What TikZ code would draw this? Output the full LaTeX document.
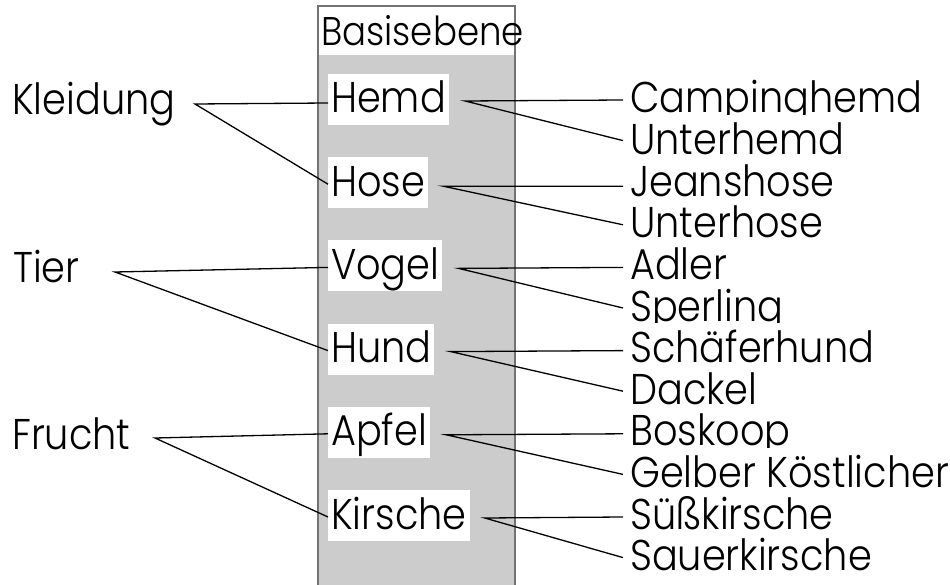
\documentclass[tikz,border=0pt]{standalone}
\usepackage{fontspec}
\setmainfont{Poppins Light}[FakeStretch=0.89]
\usetikzlibrary{positioning,calc}

\begin{document}
\begin{tikzpicture}[
    x=1pt, y=-1pt,
    every node/.style={inner sep=0pt, anchor=base west, font=\fontsize{43}{50}\selectfont},
    catnode/.style={},
    basicnode/.style={fill=white, inner xsep=3pt, text height=39pt, text depth=12pt},
    subnode/.style={fill=white, inner xsep=7pt, text height=39.5pt, text depth=12pt},
    link/.style={line width=1.3pt}
]
\useasboundingbox (0,0) rectangle (950,585);
% column of the basic level
\fill[black!20] (318,55) rectangle (515,590);
\draw[black!55, line width=1.6pt] (318,590) -- (318,6) -- (515,6) -- (515,590);
\node[font=\fontsize{40}{46}\selectfont] (basis) at (321,46) {Basisebene};

% categories
\node[catnode] (kleidung) at (12,115) {Kleidung};
\node[catnode] (tier) at (13,283) {Tier};
\node[catnode] (frucht) at (12,449) {Frucht};
\coordinate (kleidung-r) at (195,104);
\coordinate (tier-r) at (115,272);
\coordinate (frucht-r) at (155,438);

% basic level
\node[basicnode] (hemd) at (328,113) {Hemd};
\node[basicnode] (hose) at (328,196.2) {Hose};
\node[basicnode] (vogel) at (328,279.4) {Vogel};
\node[basicnode] (hund) at (328,362.6) {Hund};
\node[basicnode] (apfel) at (328,445.8) {Apfel};
\node[basicnode] (kirsche) at (328,529) {Kirsche};

% subordinate level
\node[subnode] (campinghemd) at (623,113) {Campinghemd};
\node[subnode] (unterhemd) at (623,154.6) {Unterhemd};
\node[subnode] (jeanshose) at (623,196.2) {Jeanshose};
\node[subnode] (unterhose) at (623,237.8) {Unterhose};
\node[subnode] (adler) at (623,279.4) {Adler};
\node[subnode] (sperling) at (623,321) {Sperling};
\node[subnode] (schaeferhund) at (623,362.6) {Schäferhund};
\node[subnode] (dackel) at (623,404.2) {Dackel};
\node[subnode] (boskoop) at (623,445.8) {Boskoop};
\node[subnode] (gelber) at (623,487.4) {Gelber Köstlicher};
\node[subnode] (suesskirsche) at (623,529) {Süßkirsche};
\node[subnode] (sauerkirsche) at (623,570.6) {Sauerkirsche};

% links
\draw[link] ([yshift=10pt]hemd.base west) -- (kleidung-r) -- ([yshift=12pt]hose.base west);
\draw[link] ([yshift=12pt]vogel.base west) -- (tier-r) -- ([yshift=12pt]hund.base west);
\draw[link] ([yshift=12pt]apfel.base west) -- (frucht-r) -- ([yshift=12pt]kirsche.base west);

\draw[link] ([yshift=13pt]campinghemd.base west) -- ([xshift=16pt,yshift=12pt]hemd.base east) -- ([yshift=14pt]unterhemd.base west);
\draw[link] ([yshift=10pt]jeanshose.base west) -- ([xshift=15pt,yshift=10pt]hose.base east) -- ([yshift=13pt]unterhose.base west);
\draw[link] ([yshift=12pt]adler.base west) -- ([xshift=16pt,yshift=11pt]vogel.base east) -- ([yshift=13pt]sperling.base west);
\draw[link] ([yshift=12pt]schaeferhund.base west) -- ([xshift=16pt,yshift=11pt]hund.base east) -- ([yshift=13pt]dackel.base west);
\draw[link] ([yshift=12pt]boskoop.base west) -- ([xshift=16pt,yshift=11pt]apfel.base east) -- ([yshift=13pt]gelber.base west);
\draw[link] ([yshift=12pt]suesskirsche.base west) -- ([xshift=15pt,yshift=11pt]kirsche.base east) -- ([yshift=13pt]sauerkirsche.base west);
\end{tikzpicture}
\end{document}
